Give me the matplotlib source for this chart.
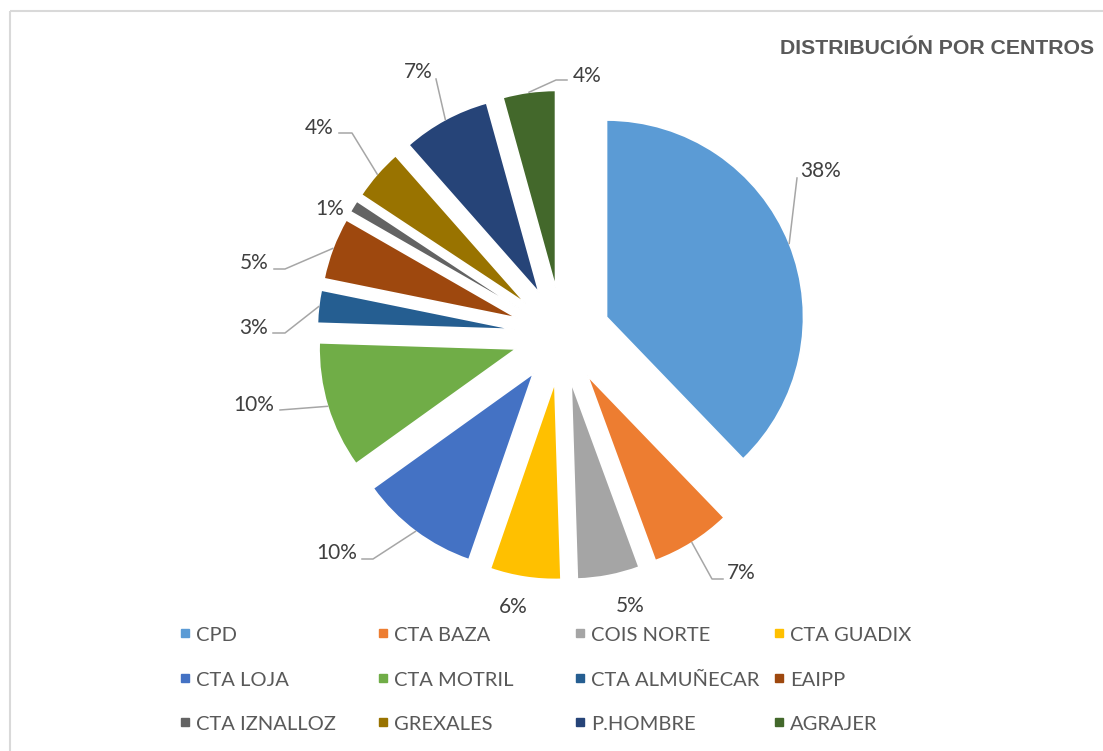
import matplotlib.pyplot as plt
from matplotlib.patches import Rectangle
import numpy as np

# datos
centros = ['CPD', 'CTA BAZA', 'COIS NORTE', 'CTA GUADIX',
           'CTA LOJA', 'CTA MOTRIL', 'CTA ALMUÑECAR', 'EAIPP',
           'CTA IZNALLOZ', 'GREXALES', 'P.HOMBRE', 'AGRAJER']
porcentajes = [37.8, 6.6, 5.1, 5.8, 9.8, 10.4, 2.7, 5.1, 1.0, 4.2, 7.2, 4.3]
colores = ['#5B9BD5', '#ED7D31', '#A5A5A5', '#FFC000', '#4472C4', '#70AD47',
           '#255E91', '#9E480E', '#636363', '#997300', '#264478', '#43682B']
titulo = 'DISTRIBUCIÓN POR CENTROS'

# posicion de las etiquetas (pixeles): (x, y base, alineacion, linea guia)
etiq_pos = [
    (800, 177, 'left', [(797, 178)]),
    (727, 579, 'left', [(712, 579), (723, 579)]),
    (630, 612, 'center', None),
    (513, 613, 'center', None),
    (357, 559, 'right', [(373, 559), (362, 559)]),
    (274, 411, 'right', [(280, 410)]),
    (268, 334, 'right', [(285, 333), (273, 333)]),
    (269, 269, 'right', [(285, 269), (274, 269)]),
    (344, 215, 'right', None),
    (334, 134, 'right', [(352, 133), (339, 133)]),
    (433, 78, 'right', [(436, 79)]),
    (573, 82, 'left', [(556, 80), (567, 80)]),
]

W, H = 1103, 751
CX, CY, R, EXP = 562, 335, 197, 48

fig = plt.figure(figsize=(W / 100, H / 100), dpi=100)
ax = fig.add_axes([0, 0, 1, 1])

wedges, _ = ax.pie(porcentajes, colors=colores, startangle=-90, counterclock=True,
                   radius=R, center=(CX, CY), explode=[EXP] * len(porcentajes),
                   wedgeprops=dict(edgecolor='white', linewidth=1.2))

ax.set_xlim(0, W)
ax.set_ylim(H, 0)
ax.set_aspect('equal')
ax.axis('off')

for w, v, (tx, ty, ha, guia) in zip(wedges, porcentajes, etiq_pos):
    ax.text(tx, ty, f'{round(v)}%', ha=ha, va='baseline', fontsize=15,
            family='Lato', color='#404040')
    if guia:
        t = np.deg2rad((w.theta1 + w.theta2) / 2)
        x0 = w.center[0] + w.r * np.cos(t)
        y0 = w.center[1] + w.r * np.sin(t)
        xs = [x0] + [p[0] for p in guia]
        ys = [y0] + [p[1] for p in guia]
        ax.plot(xs, ys, color='#A6A6A6', lw=1.1)

# leyenda
col_x = [185, 383, 580, 779]
fila_y = [633, 678, 722]
for i, (nombre, c) in enumerate(zip(centros, colores)):
    x = col_x[i % 4]
    y = fila_y[i // 4]
    ax.plot(x, y, marker='s', ms=5.5, color=c, ls='none')
    ax.text(x + 11, y + 8, nombre, ha='left', va='baseline', fontsize=14.5,
            family='Lato', color='#595959')

ax.text(1094, 54, titulo, ha='right', va='baseline', fontsize=15.3,
        family='Liberation Sans', weight='bold', color='#595959')

ax.add_patch(Rectangle((10, 11), 1200, 800, fill=False, ec='#D9D9D9', lw=1.5,
                       clip_on=False))

fig.savefig('out.png', dpi=100)
